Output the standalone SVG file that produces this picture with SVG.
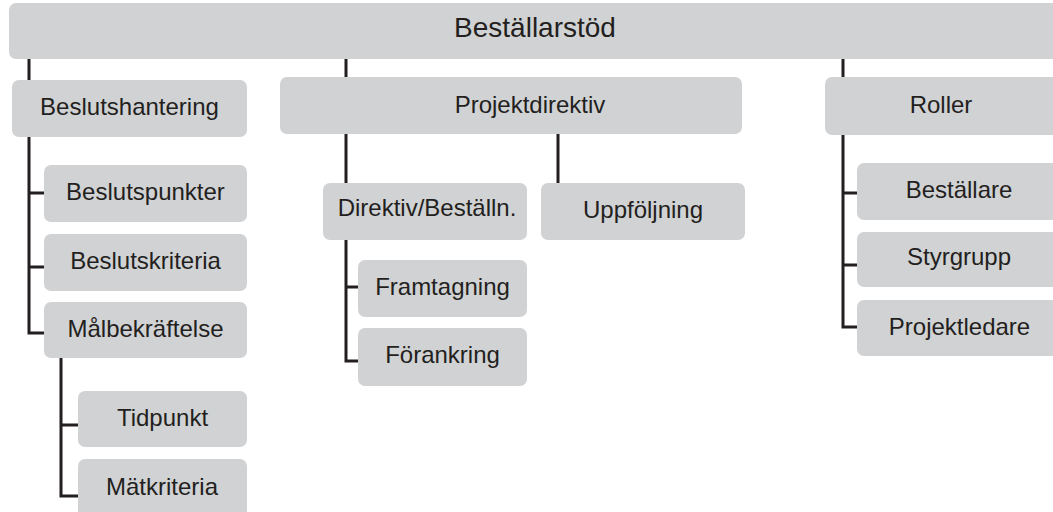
<svg xmlns="http://www.w3.org/2000/svg" width="1053" height="512" viewBox="0 0 1053 512">
<style>
.box{fill:#d1d2d4}
.t{font-family:"Liberation Sans",Arial,sans-serif;font-size:24px;fill:#231f20;text-anchor:middle}
.title{font-size:28px}
.c{fill:none;stroke:#231f20;stroke-width:3}
</style>
<rect width="1053" height="512" fill="#ffffff"/>
<g id="connectors">
<path class="c" d="M29,59V80 M346,59V77 M843,59V77"/>
<path class="c" d="M29,137V333H44 M29,193H44 M29,267H44"/>
<path class="c" d="M61,358V496H78 M61,425H78"/>
<path class="c" d="M346,134V183 M558,134V183"/>
<path class="c" d="M346,240V361H358 M346,287H358"/>
<path class="c" d="M843,135V327H857 M843,193H857 M843,265H857"/>
</g>
<g id="n-bestallarstod"><rect class="box" x="9" y="3" width="1060" height="56" rx="7"/><text class="t title" x="535" y="37">Beställarstöd</text></g>
<g id="n-beslutshantering"><rect class="box" x="12" y="80" width="235" height="57" rx="7"/><text class="t" x="129.5" y="115">Beslutshantering</text></g>
<g id="n-beslutspunkter"><rect class="box" x="44" y="165" width="203" height="57" rx="7"/><text class="t" x="145.5" y="200">Beslutspunkter</text></g>
<g id="n-beslutskriteria"><rect class="box" x="44" y="234" width="203" height="57" rx="7"/><text class="t" x="145.5" y="269">Beslutskriteria</text></g>
<g id="n-malbekraftelse"><rect class="box" x="44" y="302" width="203" height="56" rx="7"/><text class="t" x="145.5" y="337">Målbekräftelse</text></g>
<g id="n-tidpunkt"><rect class="box" x="78" y="391" width="169" height="56" rx="7"/><text class="t" x="162.5" y="426">Tidpunkt</text></g>
<g id="n-matkriteria"><rect class="box" x="78" y="459" width="169" height="60" rx="7"/><text class="t" x="162" y="495">Mätkriteria</text></g>
<g id="n-projektdirektiv"><rect class="box" x="280" y="77" width="462" height="57" rx="7"/><text class="t" x="530" y="113">Projektdirektiv</text></g>
<g id="n-direktiv"><rect class="box" x="323" y="183" width="204" height="57" rx="7"/><text class="t" x="427" y="216">Direktiv/Beställn.</text></g>
<g id="n-uppfoljning"><rect class="box" x="541" y="183" width="204" height="57" rx="7"/><text class="t" x="643" y="218">Uppföljning</text></g>
<g id="n-framtagning"><rect class="box" x="358" y="260" width="169" height="57" rx="7"/><text class="t" x="442.5" y="295">Framtagning</text></g>
<g id="n-forankring"><rect class="box" x="358" y="328" width="169" height="58" rx="7"/><text class="t" x="442.5" y="363">Förankring</text></g>
<g id="n-roller"><rect class="box" x="825" y="77" width="240" height="58" rx="7"/><text class="t" x="941" y="113">Roller</text></g>
<g id="n-bestallare"><rect class="box" x="857" y="163" width="210" height="57" rx="7"/><text class="t" x="959" y="198">Beställare</text></g>
<g id="n-styrgrupp"><rect class="box" x="857" y="232" width="210" height="55" rx="7"/><text class="t" x="959" y="265">Styrgrupp</text></g>
<g id="n-projektledare"><rect class="box" x="857" y="300" width="210" height="56" rx="7"/><text class="t" x="959.5" y="335">Projektledare</text></g>
</svg>
